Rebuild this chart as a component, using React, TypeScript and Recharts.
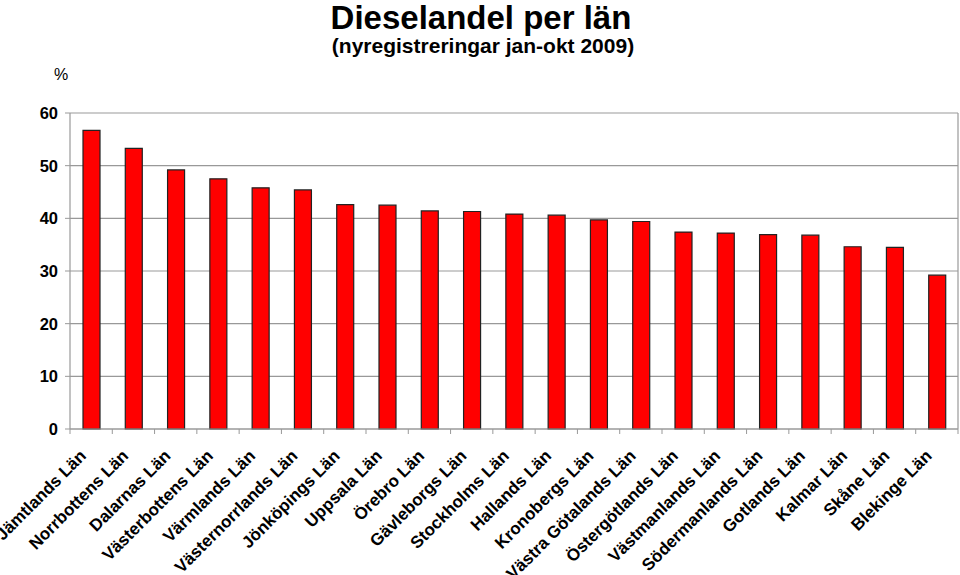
import React from "react";
import { Bar, BarChart, CartesianGrid, XAxis, YAxis } from "recharts";

const counties = [
  "Jämtlands Län",
  "Norrbottens Län",
  "Dalarnas Län",
  "Västerbottens Län",
  "Värmlands Län",
  "Västernorrlands Län",
  "Jönköpings Län",
  "Uppsala Län",
  "Örebro Län",
  "Gävleborgs Län",
  "Stockholms Län",
  "Hallands Län",
  "Kronobergs Län",
  "Västra Götalands Län",
  "Östergötlands Län",
  "Västmanlands Län",
  "Södermanlands Län",
  "Gotlands Län",
  "Kalmar Län",
  "Skåne Län",
  "Blekinge Län",
];

const dieselShare = [
  56.7, 53.3, 49.2, 47.5, 45.8, 45.4, 42.6, 42.5, 41.4, 41.3, 40.8, 40.6, 39.7,
  39.4, 37.4, 37.2, 36.9, 36.8, 34.6, 34.5, 29.2,
];

const yTicks = [0, 10, 20, 30, 40, 50, 60];

const chartData = counties.map((name, i) => ({ name, value: dieselShare[i] }));

const FONT = '"Liberation Sans", Arial, sans-serif';
const GRID = "#999999";

type TickProps = {
  x?: number;
  y?: number;
  index?: number;
  payload?: { value: string };
};

function CountyTick({ x = 0, y = 0, index = 0, payload }: TickProps) {
  // half a category band: tick marks sit between the bars, like Excel
  const half = 888 / counties.length / 2;
  const axisY = y - 8;
  return (
    <g>
      <line x1={x - half} x2={x - half} y1={axisY} y2={axisY + 5} stroke={GRID} />
      {index === counties.length - 1 && (
        <line x1={x + half} x2={x + half} y1={axisY} y2={axisY + 5} stroke={GRID} />
      )}
      <text
        x={x - 4}
        y={y + 20}
        textAnchor="end"
        transform={`rotate(-45, ${x - 4}, ${y + 20})`}
        fontFamily={FONT}
        fontWeight="bold"
        fontSize={17}
        fill="#000"
      >
        {payload?.value}
      </text>
    </g>
  );
}

export default function App() {
  return (
    <div style={{ position: "absolute", left: 0, top: 0, width: 960, height: 575, background: "#fff" }}>
      <BarChart
        width={960}
        height={575}
        data={chartData}
        margin={{ top: 113, right: 1, bottom: 0, left: 0 }}
        barCategoryGap={0}
      >
        <CartesianGrid vertical={false} stroke={GRID} strokeWidth={1.2} />
        <XAxis
          dataKey="name"
          interval={0}
          height={146}
          tickLine={false}
          axisLine={{ stroke: GRID, strokeWidth: 1.2 }}
          tick={<CountyTick />}
        />
        <YAxis
          width={70}
          domain={[0, 60]}
          ticks={yTicks}
          interval={0}
          tickSize={5}
          tickMargin={7}
          tickLine={{ stroke: GRID }}
          axisLine={{ stroke: GRID, strokeWidth: 1.2 }}
          tick={{ fontFamily: FONT, fontWeight: "bold", fontSize: 16.5, fill: "#000" }}
        />
        <YAxis
          yAxisId="frame"
          orientation="right"
          width={1}
          domain={[0, 60]}
          tick={false}
          tickLine={false}
          axisLine={{ stroke: GRID, strokeWidth: 1.2 }}
        />
        <Bar
          dataKey="value"
          barSize={17}
          fill="#ff0000"
          stroke="#222"
          strokeWidth={1.2}
          isAnimationActive={false}
        />
      </BarChart>
      <svg
        width={960}
        height={110}
        style={{ position: "absolute", left: 0, top: 0, pointerEvents: "none" }}
      >
        <text x={481} y={29} textAnchor="middle" fontFamily={FONT} fontWeight="bold" fontSize={33}>
          Dieselandel per län
        </text>
        <text x={483} y={53} textAnchor="middle" fontFamily={FONT} fontWeight="bold" fontSize={21}>
          (nyregistreringar jan-okt 2009)
        </text>
        <text x={61} y={80} textAnchor="middle" fontFamily={FONT} fontSize={16}>
          %
        </text>
      </svg>
    </div>
  );
}
